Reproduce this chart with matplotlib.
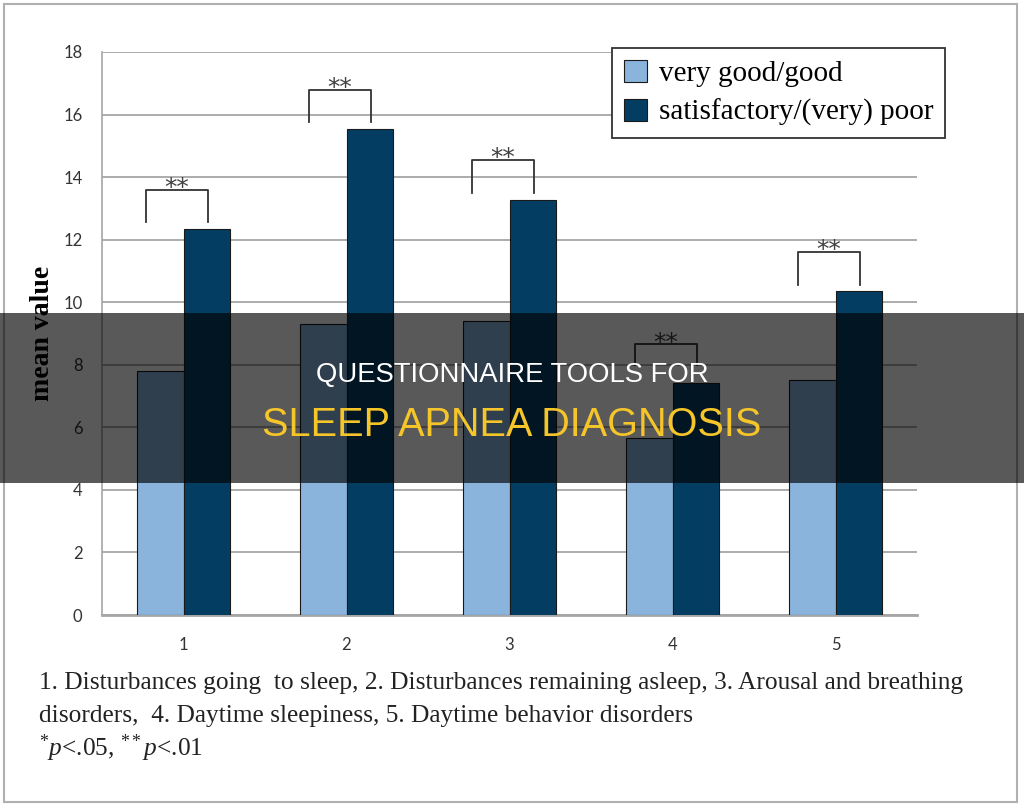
import matplotlib
matplotlib.use("Agg")
import matplotlib.pyplot as plt
from matplotlib.patches import Rectangle, Patch

# values
groups = [1, 2, 3, 4, 5]
good = [7.8, 9.3, 9.4, 5.65, 7.5]
poor = [12.35, 15.55, 13.27, 7.42, 10.35]
sig_top = [13.6, 16.8, 14.55, 8.65, 11.6]
sig_bottom = [12.55, 15.75, 13.5, 8.0, 10.55]
sig_marks = ["**", "**", "**", "**", "**"]
yticks = [0, 2, 4, 6, 8, 10, 12, 14, 16, 18]
series_labels = ["very good/good", "satisfactory/(very) poor"]
caption = ["1. Disturbances going  to sleep, 2. Disturbances remaining asleep, 3. Arousal and breathing",
           "disorders,  4. Daytime sleepiness, 5. Daytime behavior disorders"]
footnote = r"$^{*}p$<.05, $^{**}p$<.01"
title_top = "QUESTIONNAIRE TOOLS FOR"
title_bottom = "SLEEP APNEA DIAGNOSIS"

LIGHT, DARK = "#8ab4dc", "#033d62"
SERIF = "Liberation Serif"
plt.rcParams["mathtext.fontset"] = "custom"
plt.rcParams["mathtext.rm"] = SERIF
plt.rcParams["mathtext.it"] = SERIF + ":italic"

W, H = 1024, 806
fig = plt.figure(figsize=(W / 100, H / 100), dpi=100)
fig.patch.set_facecolor("white")

ax = fig.add_axes([102 / W, 1 - 615 / H, 815 / W, 563 / H])
bw = 0.285
ax.bar([g - bw / 2 for g in groups], good, bw, color=LIGHT, edgecolor="#1a1a1a", lw=0.8, zorder=3)
ax.bar([g + bw / 2 for g in groups], poor, bw, color=DARK, edgecolor="#1a1a1a", lw=0.8, zorder=3)

# significance brackets
for g, top, bot, mark in zip(groups, sig_top, sig_bottom, sig_marks):
    xl, xr = g - 0.23, g + 0.15
    ax.plot([xl, xl, xr, xr], [bot, top, top, bot], color="#333333", lw=1.3, zorder=4)
    ax.text((xl + xr) / 2, top - 0.33, mark, ha="center", va="bottom",
            fontsize=18, family="DejaVu Sans", color="#404040", zorder=4)

ax.set_xlim(0.5, 5.5)
ax.set_ylim(0, 18)
ax.set_yticks(yticks)
ax.set_xticks(groups)
ax.yaxis.grid(True, color="#a6a6a6", lw=1.3, zorder=0)
ax.set_axisbelow(True)
for s in ["top", "right"]:
    ax.spines[s].set_visible(False)
ax.spines["left"].set_color("#a6a6a6")
ax.spines["left"].set_linewidth(1.2)
ax.spines["bottom"].set_color("#a6a6a6")
ax.spines["bottom"].set_linewidth(2)
ax.tick_params(length=0, labelsize=12, labelcolor="#333333")
ax.tick_params(axis="y", pad=14)
ax.tick_params(axis="x", pad=16)
for lab in ax.get_xticklabels() + ax.get_yticklabels():
    lab.set_family("Lato")
ax.set_ylabel("mean value", family=SERIF, fontweight="bold", fontsize=20, labelpad=6)

handles = [Patch(facecolor=LIGHT, edgecolor="#1a1a1a", lw=0.8),
           Patch(facecolor=DARK, edgecolor="#1a1a1a", lw=0.8)]
leg = fig.legend(handles, series_labels, loc="upper left", bbox_to_anchor=(612 / W, 1 - 48 / H),
                 borderaxespad=0, fancybox=False, framealpha=1, edgecolor="#333333",
                 prop={"family": SERIF, "size": 21}, handlelength=0.8, handleheight=0.8,
                 handletextpad=0.4, labelspacing=0.4, borderpad=0.4)
leg.get_frame().set_linewidth(1.3)

for i, line in enumerate(caption):
    fig.text(39 / W, 1 - (683 + 33 * i) / H, line, family=SERIF, fontsize=18.3, va="center", color="#222222")
fig.text(39 / W, 1 - 748 / H, footnote, family=SERIF, fontsize=18.3, va="center", color="#222222")

# outer frame
fig.add_artist(Rectangle((4 / W, 4 / H), 1013 / W, 798 / H, transform=fig.transFigure,
                         fill=False, edgecolor="#b0b0b0", lw=1.5))

# dark banner with title
fig.add_artist(Rectangle((0, 1 - 483 / H), 1, 170 / H, transform=fig.transFigure,
                         color="black", alpha=0.65, lw=0, zorder=10))
fig.text(0.5, 1 - 375 / H, title_top, ha="center", va="center", fontsize=19.8,
         family="Liberation Sans", color="white", zorder=11)
fig.text(0.5, 1 - 425 / H, title_bottom, ha="center", va="center", fontsize=28.5,
         family="Liberation Sans", color="#f5c52a", zorder=11)

fig.savefig("out.png", dpi=100)
